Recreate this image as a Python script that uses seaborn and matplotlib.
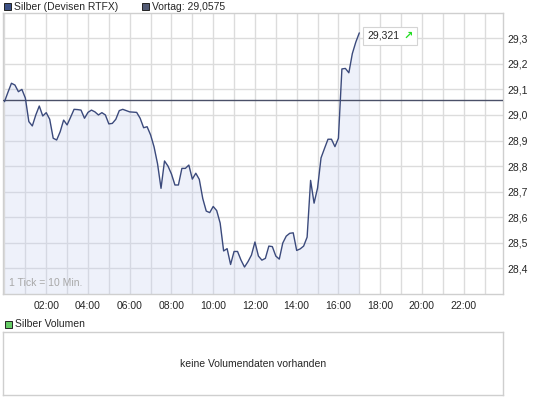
import numpy as np
import pandas as pd
import matplotlib
matplotlib.use("Agg")
import matplotlib.pyplot as plt
from matplotlib.patches import Rectangle
import seaborn as sns

# ---- data ----
prices = [
    29.052, 29.089, 29.124, 29.117, 29.091, 29.100, 29.066, 28.974, 28.957, 29.000,
    29.035, 28.996, 29.009, 28.983, 28.909, 28.902, 28.934, 28.980, 28.961, 28.991,
    29.022, 29.021, 29.019, 28.987, 29.010, 29.019, 29.012, 29.000, 29.009, 29.000,
    28.965, 28.967, 28.983, 29.017, 29.022, 29.017, 29.012, 29.011, 29.010, 28.987,
    28.950, 28.954, 28.922, 28.875, 28.809, 28.713, 28.820, 28.800, 28.769, 28.726,
    28.726, 28.791, 28.791, 28.804, 28.749, 28.772, 28.748, 28.673, 28.624, 28.618,
    28.642, 28.626, 28.577, 28.468, 28.477, 28.415, 28.466, 28.466, 28.432, 28.405,
    28.426, 28.452, 28.503, 28.448, 28.432, 28.439, 28.487, 28.485, 28.448, 28.436,
    28.499, 28.526, 28.537, 28.539, 28.470, 28.476, 28.487, 28.522, 28.744, 28.655,
    28.714, 28.832, 28.869, 28.905, 28.905, 28.876, 28.909, 29.180, 29.182, 29.165,
    29.240, 29.285, 29.321,
]
tick_minutes = 10
prev_close = 29.0575
last_label = "29,321"
series_label = "Silber (Devisen RTFX)"
prev_label = "Vortag: 29,0575"
volume_label = "Silber Volumen"
volume_msg = "keine Volumendaten vorhanden"
tick_note = "1 Tick = 10 Min."
hour_ticks = [2, 4, 6, 8, 10, 12, 14, 16, 18, 20, 22]
hour_labels = ["02:00", "04:00", "06:00", "08:00", "10:00", "12:00",
               "14:00", "16:00", "18:00", "20:00", "22:00"]
y_ticks = [28.4, 28.5, 28.6, 28.7, 28.8, 28.9, 29.0, 29.1, 29.2, 29.3]
y_labels = ["28,4", "28,5", "28,6", "28,7", "28,8", "28,9", "29,0", "29,1", "29,2", "29,3"]

# ---- style ----
sns.set_style("white")
plt.rcParams['font.family'] = ['Liberation Sans', 'DejaVu Sans']
FS = 7.5
LINE_C = "#3b4a7c"
PREV_C = "#4a5068"
GRID_C = "#dcdcdc"
BORDER_C = "#cfcfcf"

W, H = 545, 398
fig = plt.figure(figsize=(W / 100, H / 100), dpi=100)
fig.patch.set_facecolor("white")

def fx(px):
    return px / W

def fy(py):
    return 1 - py / H

# ---- main price axes ----
L, R, T, B = 2.7, 503.3, 12.7, 293.9
ax = fig.add_axes([fx(L), fy(B), (R - L) / W, (B - T) / H])
df = pd.DataFrame({"t": np.arange(len(prices)) * tick_minutes / 60.0, "p": prices})

ax.fill_between(df["t"], df["p"], 28.3, color="#c8d2f0", alpha=0.3, lw=0, zorder=2)
sns.lineplot(data=df, x="t", y="p", ax=ax, color=LINE_C, lw=1.0, zorder=4)
ax.axhline(prev_close, color=PREV_C, lw=1.0, zorder=3)

ax.set_xlim(-0.086, 23.90)
ax.set_ylim(28.3, 29.4)
ax.set_xticks(list(range(0, 24)), minor=True)
ax.set_xticks(hour_ticks)
ax.set_xticklabels(hour_labels, fontsize=FS)
ax.set_yticks(y_ticks)
ax.set_yticklabels(y_labels, fontsize=FS)
ax.yaxis.tick_right()
ax.tick_params(axis="both", which="both", length=0)
ax.tick_params(axis="y", pad=3)
ax.tick_params(axis="x", pad=5)
ax.grid(True, which="both", axis="x", color=GRID_C, lw=1.0, zorder=1)
ax.grid(True, which="major", axis="y", color=GRID_C, lw=1.0, zorder=1)
ax.set_axisbelow(True)
ax.set_xlabel("")
ax.set_ylabel("")
for s in ax.spines.values():
    s.set_color(BORDER_C)
    s.set_linewidth(1.0)

ax.text(0.012, 0.022, tick_note, transform=ax.transAxes, fontsize=FS,
        color="#a8a8a8", ha="left", va="bottom", zorder=5)

# ---- header legend ----
def square(x0, y0, size, color):
    fig.patches.append(Rectangle((fx(x0), fy(y0 + size)), size / W, size / H,
                                 transform=fig.transFigure, facecolor=color,
                                 edgecolor="#222222", lw=0.7))

square(4, 3, 7, "#3c5085")
fig.text(fx(14.5), fy(7), series_label, fontsize=FS, ha="left", va="center")
square(141.5, 3, 7, "#525a74")
fig.text(fx(152), fy(7), prev_label, fontsize=FS, ha="left", va="center")

# ---- last value box ----
fig.patches.append(Rectangle((fx(363.3), fy(44.5)), (416.7 - 363.3) / W, (44.5 - 27.3) / H,
                             transform=fig.transFigure, facecolor="white",
                             edgecolor="#d4d4d4", lw=0.8, zorder=10))
fig.text(fx(367.5), fy(36), last_label, fontsize=FS, ha="left", va="center", zorder=11)
fig.text(fx(403.5), fy(36), "\u2197", fontsize=8, fontweight="bold", color="#22dd22",
         family="DejaVu Sans", ha="left", va="center", zorder=11)

# ---- volume panel ----
square(4.5, 320.8, 7, "#66cc66")
fig.text(fx(15), fy(324.3), volume_label, fontsize=FS, ha="left", va="center")
vL, vR, vT, vB = 2.7, 503.3, 332.3, 394.9
vax = fig.add_axes([fx(vL), fy(vB), (vR - vL) / W, (vB - vT) / H])
vax.set_xticks([])
vax.set_yticks([])
for s in vax.spines.values():
    s.set_color(BORDER_C)
    s.set_linewidth(1.0)
vax.text(0.5, 0.5, volume_msg, transform=vax.transAxes, fontsize=FS,
         ha="center", va="center")

fig.savefig("out.png", dpi=100, facecolor="white")
